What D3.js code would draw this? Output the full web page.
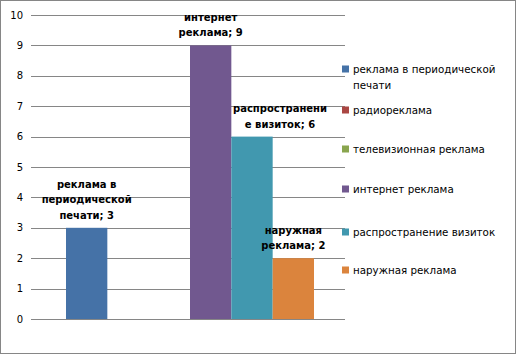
<!DOCTYPE html>
<html lang="ru">
<head>
    <meta charset="UTF-8">
    <title>Реклама</title>
    <script src="https://cdn.jsdelivr.net/npm/d3@7"></script>
    <style>
        body { margin: 0; background: #fff; }
        text { font-family: "DejaVu Sans", sans-serif; fill: #000; }
    </style>
</head>
<body>
<svg width="516" height="354"></svg>
<script>
    // data
    const seriesNames = ["реклама в периодической печати", "радиореклама", "телевизионная реклама",
        "интернет реклама", "распространение визиток", "наружная реклама"]
    const seriesValues = [3, 0, 0, 9, 6, 2]
    const seriesColors = ["#4572A7", "#AA4643", "#89A54E", "#71588F", "#4198AF", "#DB843D"]
    const yTicks = [0, 1, 2, 3, 4, 5, 6, 7, 8, 9, 10]
    // wrapped text of the data labels and legend entries, as shown
    const labelLines = [["реклама в", "периодической", "печати; 3"], null, null,
        ["интернет", "реклама; 9"], ["распространени", "е визиток; 6"], ["наружная", "реклама; 2"]]
    const legendLines = [["реклама в периодической", "печати"], ["радиореклама"], ["телевизионная реклама"],
        ["интернет реклама"], ["распространение визиток"], ["наружная реклама"]]

    const svg = d3.select("svg")
    const width = 516, height = 354
    const plot = {left: 31, right: 345, top: 15, bottom: 319}

    svg.append("rect")
        .attr("x", 0.5).attr("y", 0.5)
        .attr("width", width - 1).attr("height", height - 1)
        .attr("fill", "#fff").attr("stroke", "#868686")

    const y = d3.scaleLinear().domain([0, 10]).range([plot.bottom, plot.top])
    const x = d3.scaleBand().domain(d3.range(seriesNames.length))
        .range([plot.left + 35, plot.right - 31])
        .paddingInner(0)

    // gridlines
    svg.append("g").selectAll("line")
        .data(yTicks)
        .join("line")
        .attr("x1", plot.left).attr("x2", plot.right)
        .attr("y1", d => Math.round(y(d)) + 0.5).attr("y2", d => Math.round(y(d)) + 0.5)
        .attr("stroke", "#868686").attr("stroke-width", 1)

    // y axis labels
    svg.append("g").selectAll("text")
        .data(yTicks)
        .join("text")
        .attr("x", 23).attr("y", d => y(d))
        .attr("dy", "0.35em")
        .attr("text-anchor", "end")
        .attr("font-size", 10)
        .text(d => d)

    // bars
    svg.append("g").selectAll("rect")
        .data(seriesValues)
        .join("rect")
        .attr("x", (d, i) => x(i))
        .attr("width", x.bandwidth())
        .attr("y", d => y(d))
        .attr("height", d => y(0) - y(d))
        .attr("fill", (d, i) => seriesColors[i])

    // data labels (the one on the teal bar is pushed right, like in the original)
    const labelShift = [0, 0, 0, 0, 28, 0]
    const labels = svg.append("g")
    seriesValues.forEach((v, i) => {
        if (!labelLines[i]) return
        const lines = labelLines[i]
        const cx = x(i) + x.bandwidth() / 2 + labelShift[i]
        const t = labels.append("text")
            .attr("text-anchor", "middle")
            .attr("font-size", 10)
            .attr("font-weight", "bold")
        lines.forEach((l, k) => {
            t.append("tspan")
                .attr("x", cx)
                .attr("y", y(v) - 9 - (lines.length - 1 - k) * 15.5)
                .text(l)
        })
    })

    // legend
    const legendY = [69, 110, 149, 189, 232, 270]
    const legend = svg.append("g")
    seriesNames.forEach((name, i) => {
        const g = legend.append("g").attr("transform", `translate(342,${legendY[i]})`)
        g.append("rect").attr("x", 0).attr("y", -3.5).attr("width", 7).attr("height", 7)
            .attr("fill", seriesColors[i])
        const t = g.append("text").attr("font-size", 10.3).attr("fill", "#222")
        legendLines[i].forEach((l, k) => {
            t.append("tspan").attr("x", 11).attr("y", k * 16).attr("dy", "0.35em").text(l)
        })
    })
</script>
</body>
</html>
